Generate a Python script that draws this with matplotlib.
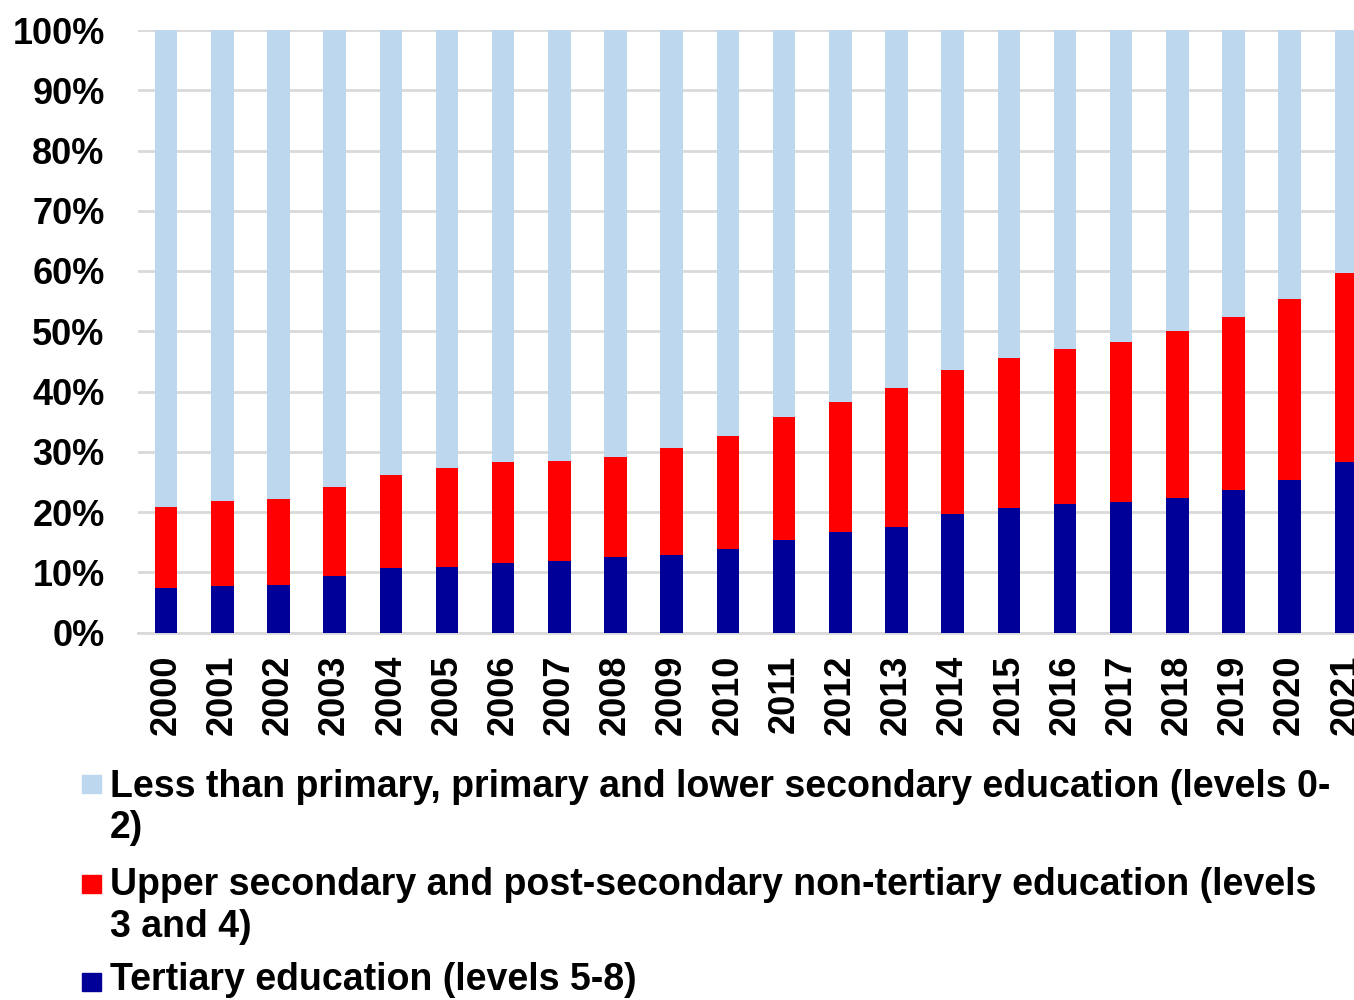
import matplotlib
matplotlib.use("Agg")
import matplotlib.pyplot as plt
from matplotlib.patches import Rectangle
import numpy as np

years = [str(y) for y in range(2000, 2022)]
tertiary = [7.4, 7.8, 7.9, 9.3, 10.7, 10.9, 11.6, 11.9, 12.5, 12.9, 13.8,
            15.4, 16.6, 17.5, 19.6, 20.6, 21.4, 21.6, 22.4, 23.7, 25.3, 28.3]
upper_cum = [20.8, 21.8, 22.1, 24.2, 26.2, 27.3, 28.3, 28.5, 29.2, 30.7, 32.6,
             35.7, 38.3, 40.5, 43.6, 45.5, 47.0, 48.2, 50.0, 52.4, 55.4, 59.6]
upper = [round(u - t, 1) for u, t in zip(upper_cum, tertiary)]
lower = [round(100 - u, 1) for u in upper_cum]

label_lines = [["Less than primary, primary and lower secondary education (levels 0-", "2)"],
               ["Upper secondary and post-secondary non-tertiary education (levels", "3 and 4)"],
               ["Tertiary education (levels 5-8)"]]
colors = ["#BDD7EE", "#FF0000", "#000099"]

plt.rcParams['font.family'] = ['Liberation Sans', 'DejaVu Sans']
plt.rcParams['font.weight'] = 'bold'
FS = 26
FS_LEG = 27

fig = plt.figure(figsize=(13.54, 10), dpi=100)
W, H = 1354, 1000
x0, x1 = 138, 1374
y0, y1 = 632.5, 30
ax = fig.add_axes([x0 / W, 1 - y0 / H, (x1 - x0) / W, (y0 - y1) / H])

x = np.arange(len(years))
bw = 0.4
ax.bar(x, tertiary, bw, color=colors[2], zorder=3)
ax.bar(x, upper, bw, bottom=tertiary, color=colors[1], zorder=3)
ax.bar(x, lower, bw, bottom=upper_cum, color=colors[0], zorder=3)

ax.set_xlim(-0.5, len(years) - 0.5)
ax.set_ylim(0, 100)
ax.set_yticks(np.arange(0, 101, 10))
ax.set_yticklabels([f"{v}%" for v in range(0, 101, 10)], fontsize=FS, fontweight='bold')
ax.set_xticks(x)
ax.set_xticklabels(years, rotation=90, fontsize=FS, fontweight='bold')
ax.tick_params(axis='x', length=0, pad=16)
ax.tick_params(axis='y', length=0, pad=24)
ax.yaxis.grid(True, color='#D9D9D9', linewidth=2, zorder=0)
ax.set_axisbelow(True)
for s in ['top', 'right', 'left']:
    ax.spines[s].set_visible(False)
ax.spines['bottom'].set_color('#D9D9D9')
ax.spines['bottom'].set_linewidth(2)

# legend (manual, figure pixel positions)
baselines = [[797, 838], [895, 937], [990]]
square_tops = [775, 875, 973]
for lines, col, bls, st in zip(label_lines, colors, baselines, square_tops):
    fig.patches.append(Rectangle((82 / W, 1 - (st + 18) / H), 19 / W, 18 / H,
                                 transform=fig.transFigure, color=col))
    for line, bl in zip(lines, bls):
        fig.text(110 / W, 1 - bl / H, line, fontsize=FS_LEG, fontweight='bold',
                 va='baseline', ha='left')

fig.savefig("out.png", dpi=100)
